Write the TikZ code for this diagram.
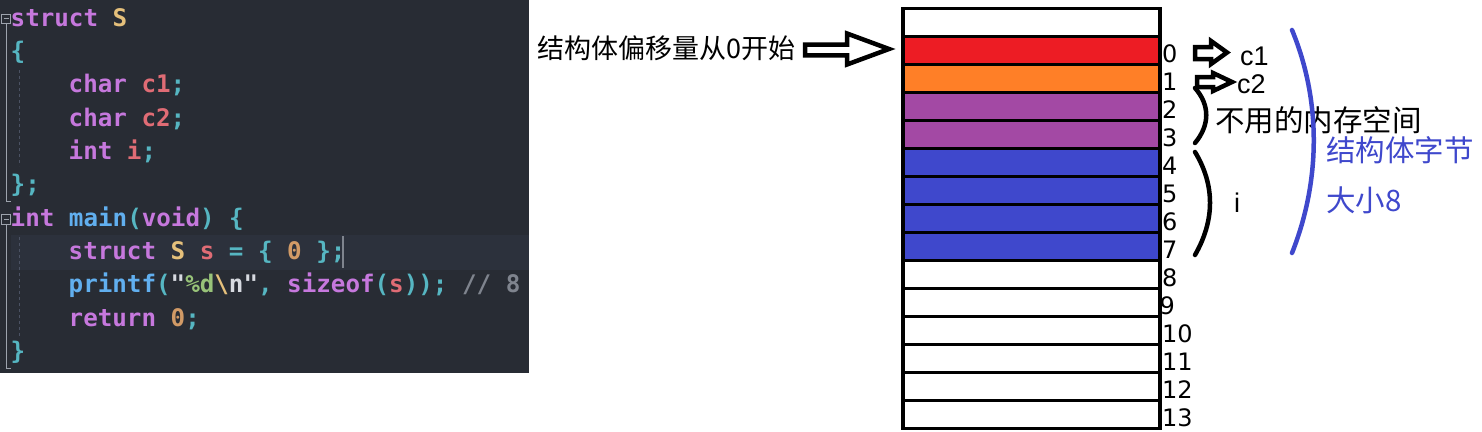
\documentclass[tikz,border=0pt]{standalone}
\usepackage{fontspec}
\newfontfamily\codefont{DejaVu Sans Mono}
\newfontfamily\cjk{Noto Sans CJK SC}
\newfontfamily\numfont{DejaVu Sans}
\newfontfamily\latfont{Liberation Sans}
\definecolor{cbg}{HTML}{282C34}
\definecolor{chl}{HTML}{2C313C}
\definecolor{ckw}{HTML}{C678DD}
\definecolor{cty}{HTML}{E5C07B}
\definecolor{cva}{HTML}{E06C75}
\definecolor{cpu}{HTML}{56B6C2}
\definecolor{cfn}{HTML}{61AFEF}
\definecolor{cst}{HTML}{98C379}
\definecolor{cnu}{HTML}{D19A66}
\definecolor{ccm}{HTML}{7F848E}
\definecolor{cwt}{HTML}{D7DAE0}
\definecolor{cfold}{HTML}{9DA3AD}
\definecolor{cguide}{HTML}{4B5263}
\definecolor{mred}{HTML}{ED1C24}
\definecolor{morange}{HTML}{FF7F27}
\definecolor{mpurple}{HTML}{A349A4}
\definecolor{mblue}{HTML}{3F48CC}
\newcommand\tkKw[1]{\textcolor{ckw}{#1}}
\newcommand\tkTy[1]{\textcolor{cty}{#1}}
\newcommand\tkVa[1]{\textcolor{cva}{#1}}
\newcommand\tkPu[1]{\textcolor{cpu}{#1}}
\newcommand\tkFn[1]{\textcolor{cfn}{#1}}
\newcommand\tkSt[1]{\textcolor{cst}{#1}}
\newcommand\tkNu[1]{\textcolor{cnu}{#1}}
\newcommand\tkCm[1]{\textcolor{ccm}{#1}}
\newcommand\tkWt[1]{\textcolor{cwt}{#1}}
\tikzset{
  code/.style={anchor=base west, inner sep=0pt, font=\codefont\bfseries\fontsize{24.2}{24}\selectfont, text=cwt},
  cell/.style={draw=black, line width=3.5pt, minimum width=257pt, minimum height=28pt, inner sep=0pt, anchor=north west},
  idx/.style={anchor=west, inner sep=0pt, font=\numfont\fontsize{24}{24}\selectfont},
  blockarrow/.style={draw=black, line width=4.5pt, fill=white, line join=miter},
  bracecurve/.style={draw=black, line width=4.5pt, line cap=round},
  foldline/.style={draw=cfold, line width=1pt},
  guide/.style={draw=cguide, line width=0.8pt, dash pattern=on 3pt off 3pt},
  lattext/.style={anchor=west, inner sep=0pt, font=\latfont\fontsize{27}{28}\selectfont},
}
\begin{document}
\begin{tikzpicture}[x=1pt,y=-1pt]
\useasboundingbox (0,0) rectangle (1482,431);
% ---------- code panel ----------
\fill[cbg] (0,0) rectangle (529,372.5);
\fill[chl] (11,235) rectangle (529,270);
% fold markers
\draw[foldline] (1.5,14) rectangle (10.5,23.3);
\draw[foldline] (3.5,18.7) -- (8.5,18.7);
\draw[foldline] (6,23.3) -- (6,201.5) -- (10.5,201.5);
\draw[foldline] (1.5,214.5) rectangle (10.5,224);
\draw[foldline] (3.5,219.2) -- (8.5,219.2);
\draw[foldline] (6,224) -- (6,368.5) -- (10.5,368.5);
% indent guides
\draw[guide] (19,70) -- (19,166);
\draw[guide] (19,237) -- (19,336);
% code lines
\node[code] (l0) at (10.5,26) {\tkKw{struct} \tkTy{S}};
\node[code] (l1) at (10.5,59.3) {\tkPu{\{}};
\node[code] (l2) at (68.5,92.7) {\tkKw{char} \tkVa{c1}\tkPu{;}};
\node[code] (l3) at (68.5,126) {\tkKw{char} \tkVa{c2}\tkPu{;}};
\node[code] (l4) at (68.5,159.3) {\tkKw{int} \tkVa{i}\tkPu{;}};
\node[code] (l5) at (10.5,192.7) {\tkPu{\};}};
\node[code] (l6) at (10.5,226) {\tkKw{int} \tkFn{main}\tkPu{(}\tkKw{void}\tkPu{)} \tkPu{\{}};
\node[code] (l7) at (68.5,259.3) {\tkKw{struct} \tkTy{S} \tkVa{s} \tkPu{=} \tkPu{\{} \tkNu{0} \tkPu{\};}};
\node[code] (l8) at (68.5,292.7) {\tkFn{printf}\tkPu{(}\tkWt{"}\tkSt{\%d}\tkTy{\textbackslash}\tkWt{n"}\tkPu{,} \tkKw{sizeof}\tkPu{(}\tkVa{s}\tkPu{));} \tkCm{// 8}};
\node[code] (l9) at (68.5,326) {\tkKw{return} \tkNu{0}\tkPu{;}};
\node[code] (l10) at (10.5,359.3) {\tkPu{\}}};
% cursor
\draw[ccm, line width=1.2pt] (343,236) -- (343,268);
% ---------- memory cells ----------
\node[cell, fill=white]   (m0)  at (901,6.5) {};
\node[cell, fill=mred]    (m1)  at (901,34.5) {};
\node[cell, fill=morange] (m2)  at (901,62.5) {};
\node[cell, fill=mpurple] (m3)  at (901,90.5) {};
\node[cell, fill=mpurple] (m4)  at (901,118.5) {};
\node[cell, fill=mblue]   (m5)  at (901,146.5) {};
\node[cell, fill=mblue]   (m6)  at (901,174.5) {};
\node[cell, fill=mblue]   (m7)  at (901,202.5) {};
\node[cell, fill=mblue]   (m8)  at (901,230.5) {};
\node[cell, fill=white]   (m9)  at (901,258.5) {};
\node[cell, fill=white]   (m10) at (901,286.5) {};
\node[cell, fill=white]   (m11) at (901,314.5) {};
\node[cell, fill=white]   (m12) at (901,342.5) {};
\node[cell, fill=white]   (m13) at (901,370.5) {};
\node[cell, fill=white]   (m14) at (901,398.5) {};
% index labels
\foreach \n in {0,...,13}{
  \ifnum\n=9
    \node[idx] (i\n) at (1159.5,{53.5+28*\n}) {\n};
  \else
    \node[idx] (i\n) at (1162,{53.5+28*\n}) {\n};
  \fi
}
% ---------- offset label & big arrow ----------
\node[anchor=west, inner sep=0pt, font=\cjk\fontsize{27}{28}\selectfont] (off) at (537,48.5) {结构体偏移量从0开始};
\draw[blockarrow] (805,44.7) -- (847,44.7) -- (847,33.5) -- (889,49) -- (847,64.5) -- (847,55.3) -- (805,55.3) -- cycle;
% ---------- c1 / c2 ----------
\draw[blockarrow] (1195,47) -- (1211,47) -- (1211,41) -- (1227,52.5) -- (1211,64) -- (1211,59) -- (1195,59) -- cycle;
\node[lattext] (c1) at (1240,56) {c1};
\draw[bracecurve] (1195,88) .. controls (1210,105) and (1210,125) .. (1195,143);
\draw[blockarrow] (1197,77) -- (1213,77) -- (1213,73) -- (1232,82) -- (1213,91) -- (1213,87) -- (1197,87) -- cycle;
\node[lattext] (c2) at (1237,84) {c2};
\node[anchor=west, inner sep=0pt, font=\cjk\fontsize{29.5}{30}\selectfont] (unused) at (1215,120) {不用的内存空间};
% ---------- i ----------
\draw[bracecurve] (1195,152) .. controls (1215,185) and (1215,220) .. (1195,255);
\node[lattext] (iv) at (1234,203) {i};
% ---------- struct size ----------
\draw[draw=mblue, line width=4.5pt, line cap=round] (1292,30) .. controls (1321,100) and (1321,180) .. (1292,253);
\node[anchor=west, inner sep=0pt, text=mblue, font=\cjk\fontsize{29.5}{30}\selectfont] (sz1) at (1326,150) {结构体字节};
\node[anchor=west, inner sep=0pt, text=mblue, font=\cjk\fontsize{29.5}{30}\selectfont] (sz2) at (1326,200) {大小8};
\end{tikzpicture}
\end{document}
